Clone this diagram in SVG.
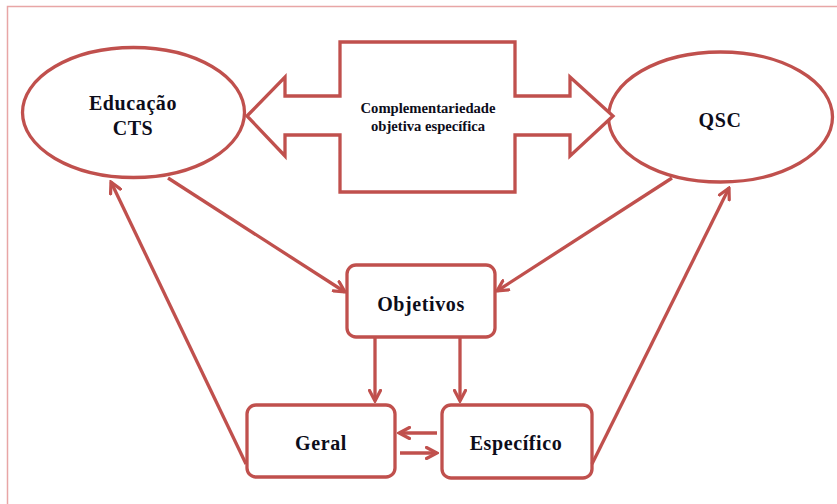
<svg xmlns="http://www.w3.org/2000/svg" width="837" height="504" viewBox="0 0 837 504">
<defs>
<marker id="ah" viewBox="0 0 14 14" refX="12" refY="7" markerWidth="14" markerHeight="14" markerUnits="userSpaceOnUse" orient="auto">
<path d="M1.5,1.5 L12,7 L1.5,12.5" fill="none" stroke="#c0504d" stroke-width="3.2" stroke-linecap="round" stroke-linejoin="miter"/>
</marker>
<style>
.s{fill:#fff;stroke:#c0504d;stroke-width:3.3}
.c{fill:none;stroke:#c0504d;stroke-width:3.3;marker-end:url(#ah)}
.t{font-family:"Liberation Serif","Times New Roman",serif;font-weight:bold;fill:#0d0d1a;text-anchor:middle}
.big{font-size:20px;letter-spacing:0.6px}
.sm{font-size:14.5px}
</style>
</defs>
<rect width="837" height="504" fill="#fff"/>
<path d="M7.5,504 L7.5,6.5 L837,6.5" fill="none" stroke="#e8a6a6" stroke-width="1.5"/>
<g id="educacao-cts">
<ellipse class="s" cx="133.5" cy="112.5" rx="111" ry="65"/>
<text class="t big" x="133" y="110">Educação</text>
<text class="t big" x="133" y="135">CTS</text>
</g>
<g id="qsc">
<ellipse class="s" cx="720.5" cy="117" rx="112" ry="65"/>
<text class="t big" x="720" y="127">QSC</text>
</g>
<g id="complementariedade">
<path class="s" d="M247,116 L285,77 L285,96 L340,96 L340,42 L515,42 L515,96 L570,96 L570,77 L613,116 L570,156 L570,135 L515,135 L515,192 L340,192 L340,135 L285,135 L285,156 Z"/>
<text class="t sm" x="428" y="113" textLength="135" lengthAdjust="spacingAndGlyphs">Complementariedade</text>
<text class="t sm" x="428" y="131" textLength="114" lengthAdjust="spacingAndGlyphs">objetiva específica</text>
</g>
<g id="objetivos">
<rect class="s" x="347" y="265" width="148" height="72" rx="9"/>
<text class="t big" x="421" y="311">Objetivos</text>
</g>
<g id="geral">
<rect class="s" x="247" y="405" width="148" height="72" rx="9"/>
<text class="t big" x="321" y="450">Geral</text>
</g>
<g id="especifico">
<rect class="s" x="442" y="405" width="150" height="73" rx="9"/>
<text class="t big" x="516" y="450">Específico</text>
</g>
<g id="connectors">
<path class="c" d="M168,178 L345,292"/>
<path class="c" d="M672,178 L497,291"/>
<path class="c" d="M375,338 L375,401"/>
<path class="c" d="M460,338 L460,401"/>
<path class="c" d="M437,433 L399,433"/>
<path class="c" d="M400,453 L437,453"/>
<path class="c" d="M246,464 L111,182"/>
<path class="c" d="M592,464 L729,188"/>
</g>
</svg>
